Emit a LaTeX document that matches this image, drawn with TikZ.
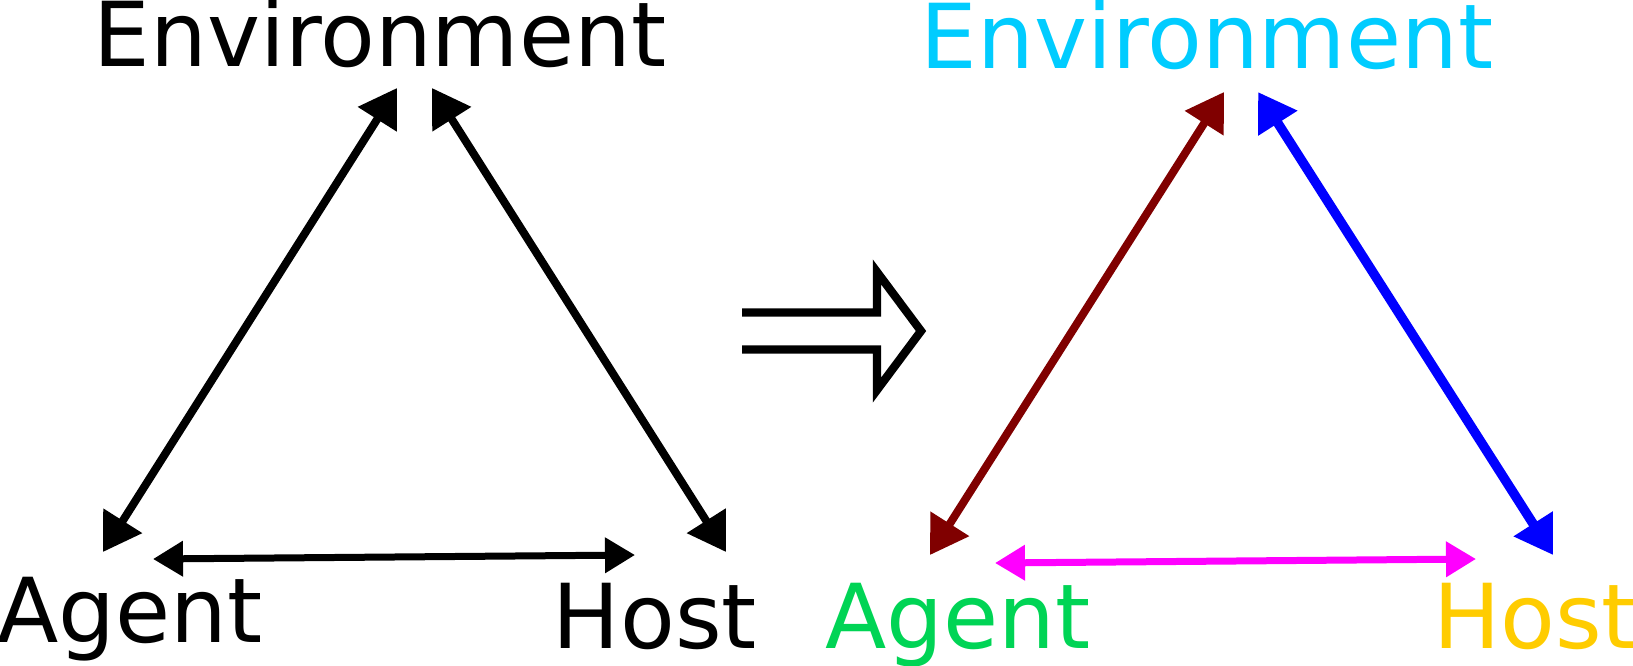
\documentclass[tikz,border=0pt]{standalone}
\usepackage{fontspec}
\setmainfont{DejaVu Sans}
\usepackage{tikz}
\usetikzlibrary{arrows.meta}
\definecolor{envcyan}{HTML}{00CCFF}
\definecolor{agentgreen}{HTML}{00D455}
\definecolor{hostyellow}{HTML}{FFCC00}
\definecolor{darkred}{HTML}{800000}
\definecolor{linkblue}{HTML}{0000FF}
\definecolor{linkmagenta}{HTML}{FF00FF}
\tikzset{
    word/.style={inner sep=0pt, anchor=base, font=\fontsize{51}{60}\selectfont},
    link/.style={{Triangle[length=0.74cm, width=0.88cm]}-{Triangle[length=0.74cm, width=0.88cm]}, line width=0.16cm},
    flat/.style={{Triangle[length=0.6cm, width=0.68cm]}-{Triangle[length=0.6cm, width=0.68cm]}, line width=0.14cm}
}
\begin{document}
\begin{tikzpicture}[x=0.02cm, y=-0.02cm]
\useasboundingbox (0,0) rectangle (1633,666);

% Before
\node[word] (envL) at (380,66) {Environment};
\node[word] (agentL) at (130,642) {Agent};
\node[word] (hostL) at (655,648) {Host};

\coordinate (eaL) at (397,88);
\coordinate (aeL) at (103,552);
\coordinate (ehL) at (432,88);
\coordinate (heL) at (726,552);
\coordinate (ahL) at (153,559);
\coordinate (haL) at (635,555);

\draw[link] (aeL) -- (eaL);
\draw[link] (ehL) -- (heL);
\draw[flat] (ahL) -- (haL);

% Implies
\draw[line width=0.166cm, miter limit=10] (742,312.5) -- (877,312.5) -- (877,272) -- (921,331) -- (877,390) -- (877,349.5) -- (742,349.5);

% After
\node[word, text=envcyan] (envR) at (1207,68) {Environment};
\node[word, text=agentgreen] (agentR) at (958,648) {Agent};
\node[word, text=hostyellow] (hostR) at (1535,648) {Host};

\coordinate (eaR) at (1224,92);
\coordinate (aeR) at (930,555);
\coordinate (ehR) at (1258,92);
\coordinate (heR) at (1553,555);
\coordinate (ahR) at (995,563);
\coordinate (haR) at (1476,559);

\draw[link, darkred] (aeR) -- (eaR);
\draw[link, linkblue, line width=0.19cm] (ehR) -- (heR);
\draw[flat, linkmagenta] (ahR) -- (haR);

\end{tikzpicture}
\end{document}
